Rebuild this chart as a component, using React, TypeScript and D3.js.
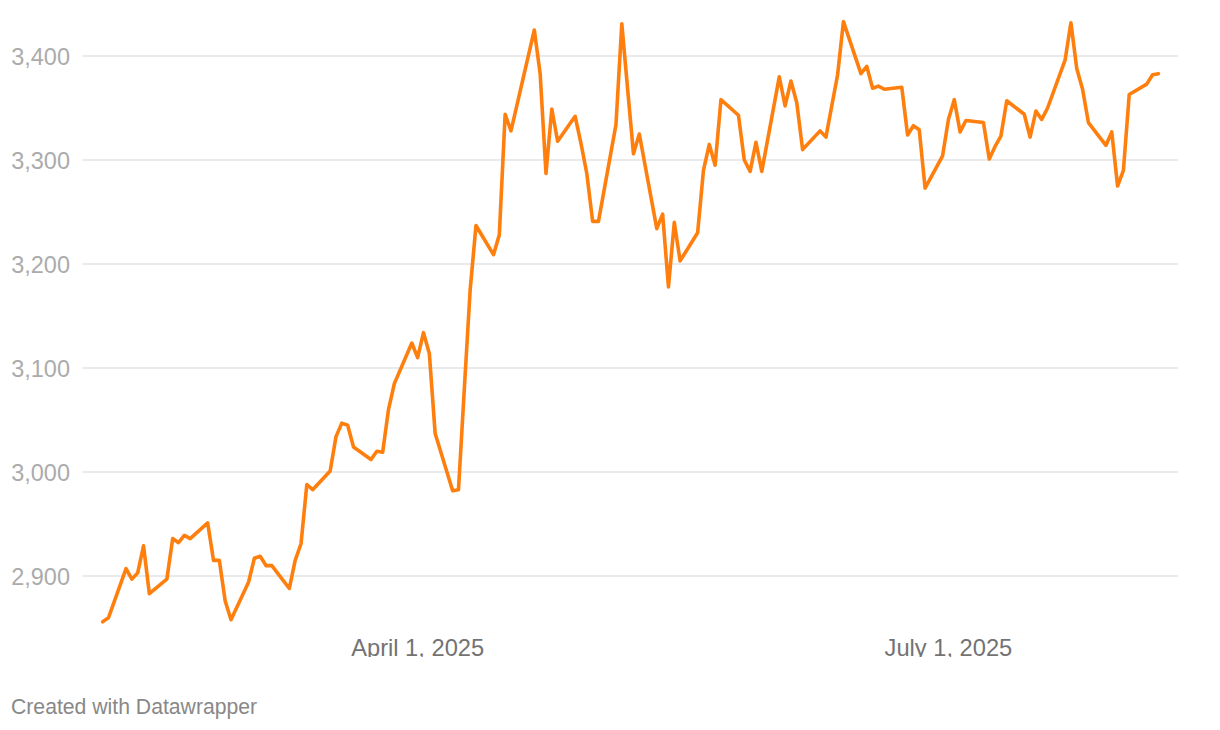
import React from "react";
import * as d3 from "d3";

const dates: string[] = [
  "2025-02-06","2025-02-07","2025-02-10","2025-02-11","2025-02-12","2025-02-13","2025-02-14","2025-02-17","2025-02-18","2025-02-19","2025-02-20","2025-02-21","2025-02-24","2025-02-25","2025-02-26","2025-02-27","2025-02-28",
  "2025-03-03","2025-03-04","2025-03-05","2025-03-06","2025-03-07","2025-03-10","2025-03-11","2025-03-12","2025-03-13","2025-03-14","2025-03-17","2025-03-18","2025-03-19","2025-03-20","2025-03-21","2025-03-24","2025-03-25","2025-03-26","2025-03-27","2025-03-28","2025-03-31",
  "2025-04-01","2025-04-02","2025-04-03","2025-04-04","2025-04-07","2025-04-08","2025-04-09","2025-04-10","2025-04-11","2025-04-14","2025-04-15","2025-04-16","2025-04-17","2025-04-21","2025-04-22","2025-04-23","2025-04-24","2025-04-25","2025-04-28","2025-04-29","2025-04-30",
  "2025-05-01","2025-05-02","2025-05-05","2025-05-06","2025-05-07","2025-05-08","2025-05-09","2025-05-12","2025-05-13","2025-05-14","2025-05-15","2025-05-16","2025-05-19","2025-05-20","2025-05-21","2025-05-22","2025-05-23","2025-05-26","2025-05-27","2025-05-28","2025-05-29","2025-05-30",
  "2025-06-02","2025-06-03","2025-06-04","2025-06-05","2025-06-06","2025-06-09","2025-06-10","2025-06-11","2025-06-12","2025-06-13","2025-06-16","2025-06-17","2025-06-18","2025-06-19","2025-06-20","2025-06-23","2025-06-24","2025-06-25","2025-06-26","2025-06-27","2025-06-30",
  "2025-07-01","2025-07-02","2025-07-03","2025-07-04","2025-07-07","2025-07-08","2025-07-09","2025-07-10","2025-07-11","2025-07-14","2025-07-15","2025-07-16","2025-07-17","2025-07-18","2025-07-21","2025-07-22","2025-07-23","2025-07-24","2025-07-25","2025-07-28","2025-07-29","2025-07-30","2025-07-31",
  "2025-08-01","2025-08-04","2025-08-05","2025-08-06",
];

const prices: number[] = [
  2856,2860,2907,2897,2903,2929,2883,2897,2936,2932,2939,2936,2951,2915,2915,2876,2858,
  2894,2917,2919,2910,2910,2888,2915,2931,2988,2983,3001,3034,3047,3045,3024,3012,3020,3019,3060,3085,3124,
  3110,3134,3114,3037,2982,2983,3080,3175,3237,3209,3228,3344,3328,3425,3383,3287,3349,3318,3342,3316,3287,
  3241,3241,3334,3431,3368,3306,3325,3234,3248,3178,3240,3203,3230,3290,3315,3295,3358,3343,3300,3289,3317,3289,
  3380,3352,3376,3355,3310,3328,3322,3352,3382,3433,3383,3390,3369,3371,3368,3370,3324,3333,3329,3273,3304,
  3339,3358,3327,3338,3336,3301,3313,3323,3357,3344,3322,3347,3339,3350,3396,3432,3388,3368,3336,3314,3327,3275,3290,
  3363,3373,3382,3383,
];

const yTicks: number[] = [2900, 3000, 3100, 3200, 3300, 3400];
const xTickDates: string[] = ["2025-04-01", "2025-07-01"];
const footerText = "Created with Datawrapper";

export default function App() {
  const W = 1220;
  const H = 730;
  const parse = d3.utcParse("%Y-%m-%d");
  const data = dates.map((d, i) => ({ date: parse(d) as Date, value: prices[i] }));

  const x = d3
    .scaleUtc()
    .domain([parse("2025-02-06") as Date, parse("2025-08-06") as Date])
    .range([102.7, 1158.4]);
  const y = d3.scaleLinear().domain([2900, 3400]).range([576, 56]);

  const line = d3
    .line<{ date: Date; value: number }>()
    .x((d) => x(d.date))
    .y((d) => y(d.value));

  const fmtY = d3.format(",");
  const fmtX = d3.utcFormat("%B %-d, %Y");

  return (
    <svg
      width={W}
      height={H}
      style={{ position: "absolute", left: 0, top: 0, background: "#fff" }}
      fontFamily="'Liberation Sans', Arial, Helvetica, sans-serif"
    >
      <defs>
        <clipPath id="xlabclip">
          <rect x={0} y={600} width={W} height={57} />
        </clipPath>
      </defs>
      {yTicks.map((t) => (
        <g key={t}>
          <line x1={83} x2={1178} y1={y(t)} y2={y(t)} stroke="#e3e3e3" strokeWidth={1.5} />
          <text x={70} y={y(t) + 8.5} textAnchor="end" fontSize={23.5} fill="#ababab">
            {fmtY(t)}
          </text>
        </g>
      ))}
      <g clipPath="url(#xlabclip)">
        {xTickDates.map((s) => {
          const d = parse(s) as Date;
          return (
            <text key={s} x={x(d)} y={656} textAnchor="middle" fontSize={23.7} fill="#737373">
              {fmtX(d)}
            </text>
          );
        })}
      </g>
      <path
        d={line(data) || ""}
        fill="none"
        stroke="#ff7f0e"
        strokeWidth={3.6}
        strokeLinejoin="round"
        strokeLinecap="round"
      />
      <text x={11} y={714} fontSize={21.2} fill="#888888">
        {footerText}
      </text>
    </svg>
  );
}
